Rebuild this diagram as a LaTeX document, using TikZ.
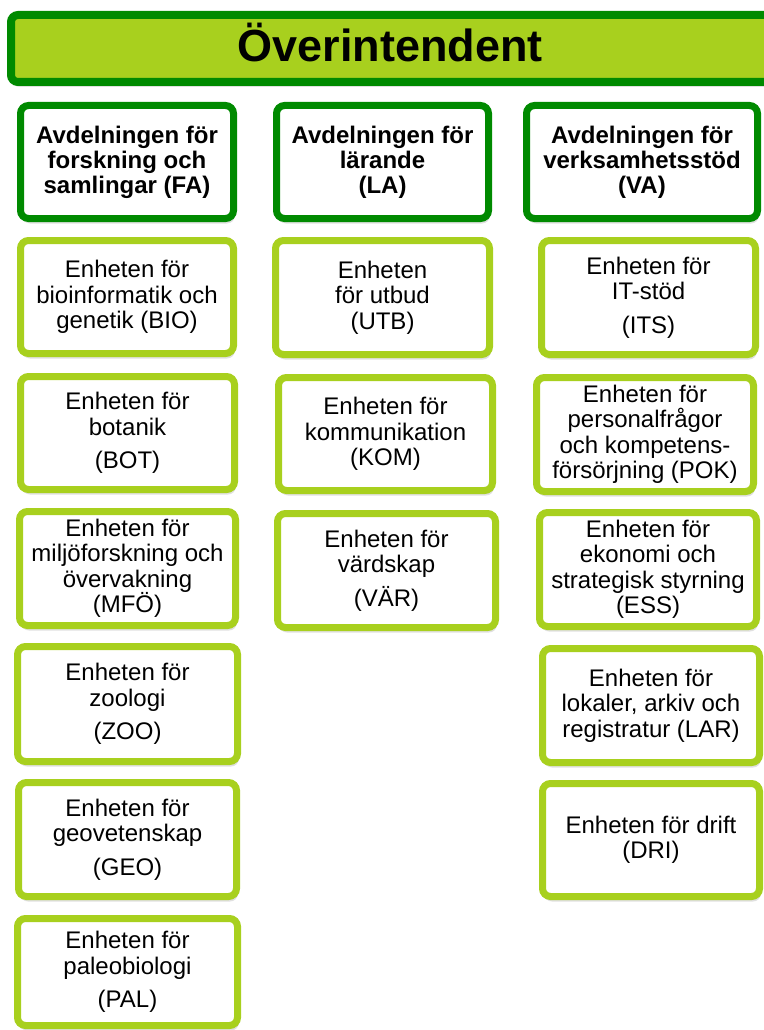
\documentclass[tikz,border=0pt]{standalone}
\usepackage{fontspec}
\setmainfont{Liberation Sans}
\usetikzlibrary{shadows}
\definecolor{myLime}{HTML}{A8D01E}
\definecolor{myGreen}{HTML}{008A00}
\tikzset{
  softshadow/.style={
    drop shadow={shadow xshift=1.5pt, shadow yshift=-5pt, opacity=.12, fill=black},
    drop shadow={shadow xshift=1pt, shadow yshift=-3pt, opacity=.2, fill=black}},
  basebox/.style={fill=white, line width=7pt, rounded corners=8pt, inner sep=0pt, align=center, softshadow},
  deptbox/.style={basebox, draw=myGreen, font=\bfseries\fontsize{24}{25}\selectfont},
  unitbox/.style={basebox, draw=myLime, font=\fontsize{24}{25.5}\selectfont},
  headbox/.style={fill=myLime, draw=myGreen, line width=8pt, rounded corners=7pt, inner sep=0pt, softshadow},
  headtext/.style={font=\bfseries\fontsize{45}{50}\selectfont, inner sep=0pt, anchor=base},
}
\begin{document}
\begin{tikzpicture}[x=1pt,y=-1pt]
\useasboundingbox (0,0) rectangle (763,1030);
% header
\node[headbox, minimum width=775pt, minimum height=67pt] (head) at (398.5,48.5) {};
\node[headtext] (headlabel) at (390,62) {Överintendent};
% departments
\node[deptbox, minimum width=213pt, minimum height=113pt] (FA) at (127,162) {Avdelningen för\\forskning och\\samlingar (FA)};
\node[deptbox, minimum width=212pt, minimum height=113pt] (LA) at (382.5,162) {Avdelningen för\\lärande\\(LA)};
\node[deptbox, minimum width=231pt, minimum height=113pt] (VA) at (642,162) {Avdelningen för\\verksamhetsstöd\\(VA)};
% FA units
\node[unitbox, minimum width=213pt, minimum height=113pt] (BIO) at (127,297) {Enheten för\\bioinformatik och\\genetik (BIO)};
\node[unitbox, minimum width=214pt, minimum height=113pt] (BOT) at (127.5,433) {Enheten för\\botanik\\[8pt](BOT)};
\node[unitbox, minimum width=216pt, minimum height=114pt] (MFO) at (127.5,568.5) {Enheten för\\miljöforskning och\\övervakning\\(MFÖ)};
\node[unitbox, minimum width=220pt, minimum height=115pt] (ZOO) at (127.5,704) {Enheten för\\zoologi\\[8pt](ZOO)};
\node[unitbox, minimum width=218pt, minimum height=114pt] (GEO) at (127.5,839.5) {Enheten för\\geovetenskap\\[8pt](GEO)};
\node[unitbox, minimum width=220pt, minimum height=107pt] (PAL) at (127.5,972) {Enheten för\\paleobiologi\\[8pt](PAL)};
% LA units
\node[unitbox, minimum width=214pt, minimum height=114pt] (UTB) at (382.5,297.5) {Enheten\\för utbud\\(UTB)};
\node[unitbox, minimum width=214pt, minimum height=113pt] (KOM) at (385.5,434) {Enheten för\\kommunikation\\(KOM)};
\node[unitbox, minimum width=218pt, minimum height=114pt] (VAR) at (386.5,570.5) {Enheten för\\värdskap\\[8pt](VÄR)};
% VA units
\node[unitbox, minimum width=214pt, minimum height=114pt] (ITS) at (648.5,297.5) {Enheten för\\IT-stöd\\[8pt](ITS)};
\node[unitbox, minimum width=217pt, minimum height=114pt] (POK) at (645,434.5) {Enheten för\\personalfrågor\\och kompetens-\\försörjning (POK)};
\node[unitbox, minimum width=217pt, minimum height=114pt] (ESS) at (648,569.5) {Enheten för\\ekonomi och\\strategisk styrning\\(ESS)};
\node[unitbox, minimum width=217pt, minimum height=114pt] (LAR) at (651,705.5) {Enheten för\\lokaler, arkiv och\\registratur (LAR)};
\node[unitbox, minimum width=217pt, minimum height=113pt] (DRI) at (651,840) {Enheten för drift\\(DRI)};
\end{tikzpicture}
\end{document}
